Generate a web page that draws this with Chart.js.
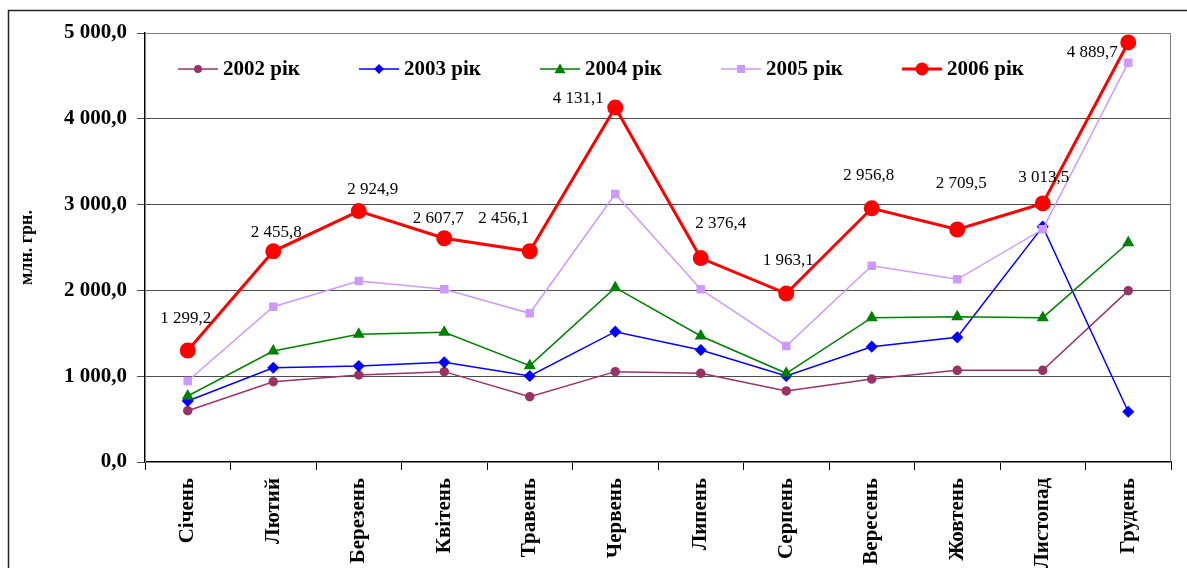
<!DOCTYPE html>
<html>
<head>
<meta charset="utf-8">
<script src="https://cdn.jsdelivr.net/npm/chart.js"></script>
<style>
  body { margin: 0; background: #fff; }
  canvas { display: block; }
</style>
</head>
<body>
<canvas id="chart-area" width="1187" height="568"></canvas>
<script>
// місяці
var months = ['Січень', 'Лютий', 'Березень', 'Квітень', 'Травень', 'Червень',
  'Липень', 'Серпень', 'Вересень', 'Жовтень', 'Листопад', 'Грудень'];

// млн. грн. по роках
var y2002 = [598, 936, 1014, 1053, 761, 1053, 1034, 828, 967, 1069, 1069, 1997];
var y2003 = [711, 1099, 1119, 1162, 1002, 1519, 1305, 1002, 1344, 1453, 2743, 586];
var y2004 = [769, 1294, 1488, 1512, 1123, 2032, 1469, 1034, 1682, 1694, 1682, 2556];
var y2005 = [944, 1810, 2110, 2013, 1733, 3124, 2013, 1352, 2288, 2129, 2712, 4654];
var y2006 = [1299.2, 2455.8, 2924.9, 2607.7, 2456.1, 4131.1, 2376.4, 1963.1, 2956.8, 2709.5, 3013.5, 4889.7];

var yTicks = [0, 1000, 2000, 3000, 4000, 5000];

// label offsets for 2006 values (px from point), as placed by hand in the original
var labelShift = [[-2, -32], [3, -19], [14, -22], [-6, -20], [-26, -33], [-37, -9],
  [20, -35], [2, -33], [-3, -33], [4, -46], [1, -26], [-36, 10]];

function fmt(v){
  var parts = v.toFixed(1).split('.');
  parts[0] = parts[0].replace(/\B(?=(\d{3})+(?!\d))/g, ' ');
  return parts.join(',');
}

function marker(ctx, style, x, y, r){
  ctx.beginPath();
  if(style == 'circle'){
    ctx.arc(x, y, r, 0, Math.PI * 2);
  }
  else if(style == 'rectRot'){
    ctx.moveTo(x, y - r); ctx.lineTo(x + r, y); ctx.lineTo(x, y + r); ctx.lineTo(x - r, y);
  }
  else if(style == 'triangle'){
    ctx.moveTo(x, y - r); ctx.lineTo(x + r, y + r * 0.75); ctx.lineTo(x - r, y + r * 0.75);
  }
  else {
    ctx.rect(x - r * 0.8, y - r * 0.8, r * 1.6, r * 1.6);
  }
  ctx.closePath();
  ctx.fill();
}

var serif = '"Liberation Serif", "Times New Roman", serif';

var framePlugin = {
  id: 'frame',
  beforeDraw: function(chart){
    var ctx = chart.ctx;
    ctx.save();
    ctx.fillStyle = '#fff';
    ctx.fillRect(0, 0, chart.width, chart.height);
    ctx.strokeStyle = '#222';
    ctx.lineWidth = 1.5;
    ctx.beginPath();
    ctx.moveTo(8.5, chart.height);
    ctx.lineTo(8.5, 10.5);
    ctx.lineTo(chart.width, 10.5);
    ctx.stroke();
    ctx.restore();
  },
  beforeDatasetsDraw: function(chart){
    var a = chart.chartArea, ctx = chart.ctx;
    ctx.save();
    ctx.strokeStyle = '#808080';
    ctx.lineWidth = 1;
    ctx.strokeRect(a.left + 0.5, a.top + 0.5, a.right - a.left - 1, a.bottom - a.top);
    ctx.restore();
  },
  afterDatasetsDraw: function(chart){
    var ctx = chart.ctx, a = chart.chartArea;
    ctx.save();
    // value labels for 2006
    var meta = chart.getDatasetMeta(4);
    ctx.font = '17px ' + serif;
    ctx.fillStyle = '#000';
    ctx.textAlign = 'center';
    ctx.textBaseline = 'middle';
    meta.data.forEach(function(pt, i){
      ctx.fillText(fmt(y2006[i]), pt.x + labelShift[i][0], pt.y + labelShift[i][1]);
    });
    // legend inside the plot area
    var ly = a.top + 36;
    chart.data.datasets.forEach(function(ds, i){
      var lx = a.left + 33 + i * 181;
      ctx.strokeStyle = ds.borderColor;
      ctx.fillStyle = ds.backgroundColor;
      ctx.lineWidth = ds.borderWidth;
      ctx.beginPath();
      ctx.moveTo(lx, ly);
      ctx.lineTo(lx + 40, ly);
      ctx.stroke();
      marker(ctx, ds.pointStyle, lx + 20, ly, ds.pointRadius);
      ctx.fillStyle = '#000';
      ctx.font = 'bold 21px ' + serif;
      ctx.textAlign = 'left';
      ctx.fillText(ds.label, lx + 45, ly + 1);
    });
    ctx.restore();
  }
};

var config = {
  type: 'line',
  data: {
    labels: months,
    datasets: [
      { label: '2002 рік', data: y2002, borderColor: '#993366', backgroundColor: '#993366',
        borderWidth: 1.5, pointStyle: 'circle', pointRadius: 4, order: 5 },
      { label: '2003 рік', data: y2003, borderColor: '#0000FF', backgroundColor: '#0000FF',
        borderWidth: 1.5, pointStyle: 'rectRot', pointRadius: 5, order: 4 },
      { label: '2004 рік', data: y2004, borderColor: '#008000', backgroundColor: '#008000',
        borderWidth: 1.5, pointStyle: 'triangle', pointRadius: 5.5, order: 3 },
      { label: '2005 рік', data: y2005, borderColor: '#CC99FF', backgroundColor: '#CC99FF',
        borderWidth: 1.5, pointStyle: 'rect', pointRadius: 5, order: 2 },
      { label: '2006 рік', data: y2006, borderColor: '#FF0000', backgroundColor: '#FF0000',
        borderWidth: 3, pointStyle: 'circle', pointRadius: 6.5, order: 1 }
    ]
  },
  options: {
    responsive: false,
    animation: false,
    events: [],
    layout: { padding: { left: 8, top: 33, right: 16, bottom: 0 } },
    elements: {
      line: { tension: 0 },
      point: { borderWidth: 0 }
    },
    plugins: {
      legend: { display: false },
      tooltip: { enabled: false }
    },
    scales: {
      x: {
        offset: true,
        grid: { offset: true, drawOnChartArea: false, drawTicks: true, tickLength: 8, color: '#000' },
        border: { color: '#000', width: 2 },
        ticks: {
          minRotation: 90, maxRotation: 90, autoSkip: false, padding: 8,
          color: '#000', font: { family: serif, size: 21, weight: 'bold' }
        },
        afterFit: function(scale){ scale.height = 106; }
      },
      y: {
        min: 0,
        max: 5000,
        afterBuildTicks: function(scale){
          scale.ticks = yTicks.map(function(v){ return { value: v }; });
        },
        grid: { color: '#4d4d4d', lineWidth: 1, tickLength: 8 },
        border: { color: '#000', width: 1.5 },
        ticks: {
          padding: 10, color: '#000',
          font: { family: serif, size: 21, weight: 'bold' },
          callback: function(v){ return fmt(v); }
        },
        title: {
          display: true, text: 'млн. грн.', color: '#000',
          font: { family: serif, size: 18, weight: 'bold' },
          padding: { top: 9, bottom: 0 }
        },
        afterFit: function(scale){ scale.width = 137; }
      }
    }
  },
  plugins: [framePlugin]
};

var ctx = document.getElementById('chart-area').getContext('2d');
window.myLine = new Chart(ctx, config);
</script>
</body>
</html>
